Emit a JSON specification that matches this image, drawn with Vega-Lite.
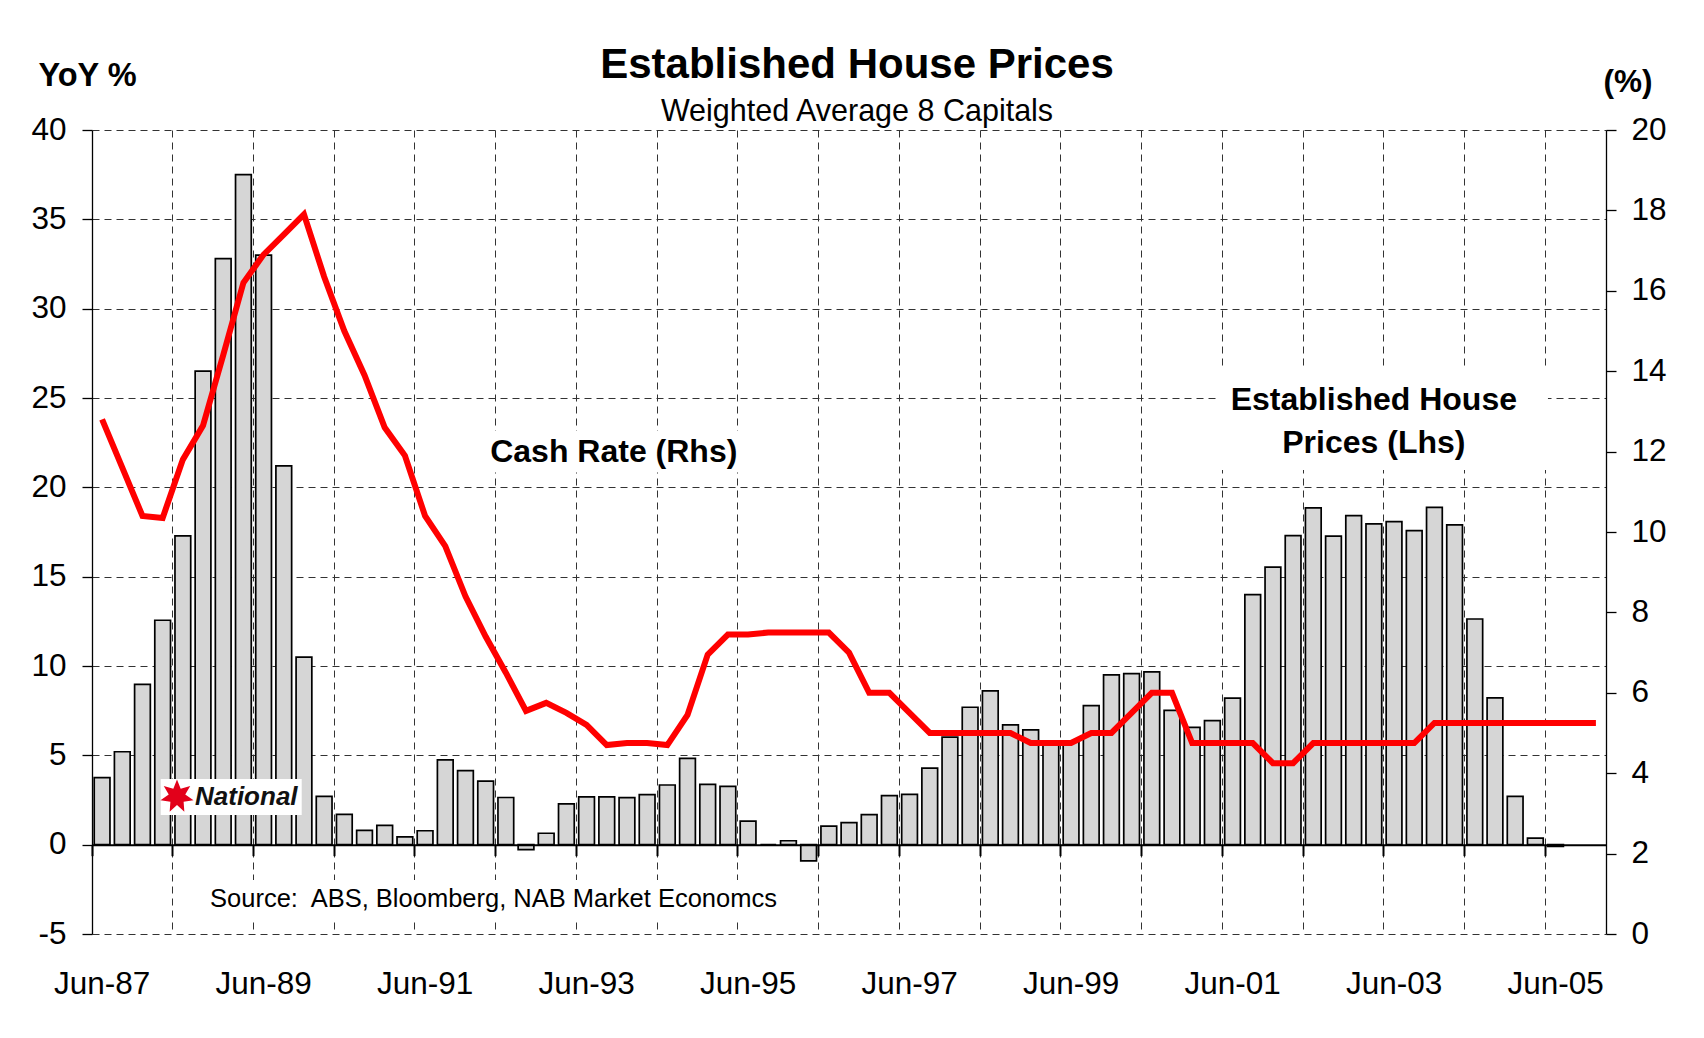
{
  "$schema": "https://vega.github.io/schema/vega-lite/v6.json",
  "width": 1514,
  "height": 804,
  "autosize": {"type": "none"},
  "padding": {"left": 92, "top": 130, "right": 98, "bottom": 104},
  "background": "white",
  "config": {"view": {"stroke": null}, "font": "Liberation Sans"},
  "title": {
    "text": "Established House Prices",
    "subtitle": "Weighted Average 8 Capitals",
    "anchor": "middle",
    "frame": "group",
    "font": "Liberation Sans",
    "fontSize": 42,
    "fontWeight": "bold",
    "color": "#000",
    "subtitleFont": "Liberation Sans",
    "subtitleFontSize": 30.5,
    "subtitleColor": "#000",
    "subtitlePadding": 10,
    "offset": -66,
    "dx": 8,
    "dy": 3
  },
  "datasets": {
    "quarters": [
      {"q": "Jun-87", "date": "1987-06-30", "hp": 3.75, "cash": 12.8},
      {"q": "Sep-87", "date": "1987-09-30", "hp": 5.2, "cash": 11.6},
      {"q": "Dec-87", "date": "1987-12-31", "hp": 8.97, "cash": 10.4},
      {"q": "Mar-88", "date": "1988-03-31", "hp": 12.56, "cash": 10.35},
      {"q": "Jun-88", "date": "1988-06-30", "hp": 17.28, "cash": 11.8},
      {"q": "Sep-88", "date": "1988-09-30", "hp": 26.5, "cash": 12.65},
      {"q": "Dec-88", "date": "1988-12-31", "hp": 32.8, "cash": 14.4},
      {"q": "Mar-89", "date": "1989-03-31", "hp": 37.5, "cash": 16.2},
      {"q": "Jun-89", "date": "1989-06-30", "hp": 33.0, "cash": 16.9},
      {"q": "Sep-89", "date": "1989-09-30", "hp": 21.2, "cash": 17.4},
      {"q": "Dec-89", "date": "1989-12-31", "hp": 10.5, "cash": 17.9},
      {"q": "Mar-90", "date": "1990-03-31", "hp": 2.7, "cash": 16.35},
      {"q": "Jun-90", "date": "1990-06-30", "hp": 1.7, "cash": 15.0},
      {"q": "Sep-90", "date": "1990-09-30", "hp": 0.8, "cash": 13.9},
      {"q": "Dec-90", "date": "1990-12-31", "hp": 1.08, "cash": 12.6},
      {"q": "Mar-91", "date": "1991-03-31", "hp": 0.44, "cash": 11.9},
      {"q": "Jun-91", "date": "1991-06-30", "hp": 0.78, "cash": 10.4},
      {"q": "Sep-91", "date": "1991-09-30", "hp": 4.75, "cash": 9.65},
      {"q": "Dec-91", "date": "1991-12-31", "hp": 4.14, "cash": 8.4},
      {"q": "Mar-92", "date": "1992-03-31", "hp": 3.56, "cash": 7.4},
      {"q": "Jun-92", "date": "1992-06-30", "hp": 2.64, "cash": 6.5},
      {"q": "Sep-92", "date": "1992-09-30", "hp": -0.28, "cash": 5.55},
      {"q": "Dec-92", "date": "1992-12-31", "hp": 0.64, "cash": 5.75},
      {"q": "Mar-93", "date": "1993-03-31", "hp": 2.28, "cash": 5.5},
      {"q": "Jun-93", "date": "1993-06-30", "hp": 2.67, "cash": 5.2},
      {"q": "Sep-93", "date": "1993-09-30", "hp": 2.67, "cash": 4.7},
      {"q": "Dec-93", "date": "1993-12-31", "hp": 2.63, "cash": 4.75},
      {"q": "Mar-94", "date": "1994-03-31", "hp": 2.8, "cash": 4.75},
      {"q": "Jun-94", "date": "1994-06-30", "hp": 3.34, "cash": 4.7},
      {"q": "Sep-94", "date": "1994-09-30", "hp": 4.83, "cash": 5.45},
      {"q": "Dec-94", "date": "1994-12-31", "hp": 3.38, "cash": 6.95},
      {"q": "Mar-95", "date": "1995-03-31", "hp": 3.26, "cash": 7.45},
      {"q": "Jun-95", "date": "1995-06-30", "hp": 1.32, "cash": 7.45},
      {"q": "Sep-95", "date": "1995-09-30", "hp": 0, "cash": 7.5},
      {"q": "Dec-95", "date": "1995-12-31", "hp": 0.22, "cash": 7.5},
      {"q": "Mar-96", "date": "1996-03-31", "hp": -0.91, "cash": 7.5},
      {"q": "Jun-96", "date": "1996-06-30", "hp": 1.04, "cash": 7.5},
      {"q": "Sep-96", "date": "1996-09-30", "hp": 1.23, "cash": 7.0},
      {"q": "Dec-96", "date": "1996-12-31", "hp": 1.68, "cash": 6.0},
      {"q": "Mar-97", "date": "1997-03-31", "hp": 2.74, "cash": 6.0},
      {"q": "Jun-97", "date": "1997-06-30", "hp": 2.81, "cash": 5.5},
      {"q": "Sep-97", "date": "1997-09-30", "hp": 4.28, "cash": 5.0},
      {"q": "Dec-97", "date": "1997-12-31", "hp": 6.02, "cash": 5.0},
      {"q": "Mar-98", "date": "1998-03-31", "hp": 7.69, "cash": 5.0},
      {"q": "Jun-98", "date": "1998-06-30", "hp": 8.61, "cash": 5.0},
      {"q": "Sep-98", "date": "1998-09-30", "hp": 6.7, "cash": 5.0},
      {"q": "Dec-98", "date": "1998-12-31", "hp": 6.43, "cash": 4.75},
      {"q": "Mar-99", "date": "1999-03-31", "hp": 5.7, "cash": 4.75},
      {"q": "Jun-99", "date": "1999-06-30", "hp": 5.78, "cash": 4.75},
      {"q": "Sep-99", "date": "1999-09-30", "hp": 7.78, "cash": 5.0},
      {"q": "Dec-99", "date": "1999-12-31", "hp": 9.5, "cash": 5.0},
      {"q": "Mar-00", "date": "2000-03-31", "hp": 9.57, "cash": 5.5},
      {"q": "Jun-00", "date": "2000-06-30", "hp": 9.67, "cash": 6.0},
      {"q": "Sep-00", "date": "2000-09-30", "hp": 7.52, "cash": 6.0},
      {"q": "Dec-00", "date": "2000-12-31", "hp": 6.57, "cash": 4.75},
      {"q": "Mar-01", "date": "2001-03-31", "hp": 6.94, "cash": 4.75},
      {"q": "Jun-01", "date": "2001-06-30", "hp": 8.2, "cash": 4.75},
      {"q": "Sep-01", "date": "2001-09-30", "hp": 14.0, "cash": 4.75},
      {"q": "Dec-01", "date": "2001-12-31", "hp": 15.53, "cash": 4.25},
      {"q": "Mar-02", "date": "2002-03-31", "hp": 17.3, "cash": 4.25},
      {"q": "Jun-02", "date": "2002-06-30", "hp": 18.85, "cash": 4.75},
      {"q": "Sep-02", "date": "2002-09-30", "hp": 17.27, "cash": 4.75},
      {"q": "Dec-02", "date": "2002-12-31", "hp": 18.42, "cash": 4.75},
      {"q": "Mar-03", "date": "2003-03-31", "hp": 17.95, "cash": 4.75},
      {"q": "Jun-03", "date": "2003-06-30", "hp": 18.08, "cash": 4.75},
      {"q": "Sep-03", "date": "2003-09-30", "hp": 17.58, "cash": 4.75},
      {"q": "Dec-03", "date": "2003-12-31", "hp": 18.88, "cash": 5.25},
      {"q": "Mar-04", "date": "2004-03-31", "hp": 17.9, "cash": 5.25},
      {"q": "Jun-04", "date": "2004-06-30", "hp": 12.63, "cash": 5.25},
      {"q": "Sep-04", "date": "2004-09-30", "hp": 8.22, "cash": 5.25},
      {"q": "Dec-04", "date": "2004-12-31", "hp": 2.7, "cash": 5.25},
      {"q": "Mar-05", "date": "2005-03-31", "hp": 0.37, "cash": 5.25},
      {"q": "Jun-05", "date": "2005-06-30", "hp": -0.1, "cash": 5.25},
      {"q": "Sep-05", "date": "2005-09-30", "hp": null, "cash": 5.25},
      {"q": "Dec-05", "date": "2005-12-31", "hp": null, "cash": 5.25}
    ]
  },
  "resolve": {
    "scale": {"y": "independent"},
    "axis": {"x": "independent", "y": "independent"}
  },
  "layer": [
    {
      "data": {"name": "quarters"},
      "mark": {"type": "bar", "fill": "#d6d6d6", "stroke": "#000", "strokeWidth": 1.7, "width": {"band": 0.78}},
      "encoding": {
        "x": {
          "field": "q", "type": "ordinal",
          "scale": {
            "domain": ["Jun-87","Sep-87","Dec-87","Mar-88","Jun-88","Sep-88","Dec-88","Mar-89","Jun-89","Sep-89","Dec-89","Mar-90","Jun-90","Sep-90","Dec-90","Mar-91","Jun-91","Sep-91","Dec-91","Mar-92","Jun-92","Sep-92","Dec-92","Mar-93","Jun-93","Sep-93","Dec-93","Mar-94","Jun-94","Sep-94","Dec-94","Mar-95","Jun-95","Sep-95","Dec-95","Mar-96","Jun-96","Sep-96","Dec-96","Mar-97","Jun-97","Sep-97","Dec-97","Mar-98","Jun-98","Sep-98","Dec-98","Mar-99","Jun-99","Sep-99","Dec-99","Mar-00","Jun-00","Sep-00","Dec-00","Mar-01","Jun-01","Sep-01","Dec-01","Mar-02","Jun-02","Sep-02","Dec-02","Mar-03","Jun-03","Sep-03","Dec-03","Mar-04","Jun-04","Sep-04","Dec-04","Mar-05","Jun-05","Sep-05","Dec-05"],
            "paddingInner": 0, "paddingOuter": 0
          },
          "axis": {
            "orient": "bottom",
            "values": ["Jun-87","Jun-89","Jun-91","Jun-93","Jun-95","Jun-97","Jun-99","Jun-01","Jun-03","Jun-05"],
            "ticks": false, "tickSize": 0, "domain": false, "grid": false,
            "labelFontSize": 31.5, "labelFont": "Liberation Sans", "labelColor": "#000",
            "labelPadding": 34, "labelAngle": 0, "labelOverlap": false, "title": null
          }
        },
        "y": {
          "field": "hp", "type": "quantitative",
          "scale": {"domain": [-5, 40], "nice": false},
          "axis": {
            "orient": "left", "values": [-5, 0, 5, 10, 15, 20, 25, 30, 35, 40],
            "grid": true, "gridDash": [7, 5], "gridColor": "#333", "gridWidth": 1,
            "domain": true, "domainColor": "#000", "domainWidth": 1.3,
            "ticks": true, "tickColor": "#000", "tickWidth": 1.3, "tickSize": 10,
            "labelFontSize": 31.5, "labelFont": "Liberation Sans", "labelColor": "#000",
            "labelPadding": 16, "labelExpr": "toString(datum.value)",
            "title": "YoY %", "titleFont": "Liberation Sans", "titleFontSize": 32.5, "titleFontWeight": "bold",
            "titleColor": "#000", "titleAngle": 0, "titleAlign": "left", "titleBaseline": "alphabetic",
            "titleX": -54, "titleY": -44.7
          }
        }
      }
    },
    {
      "data": {"name": "quarters"},
      "mark": {"type": "line", "color": "#ff0000", "strokeWidth": 6},
      "encoding": {
        "x": {
          "field": "q", "type": "ordinal",
          "axis": {
            "orient": "bottom",
            "values": ["Jun-88","Jun-89","Jun-90","Jun-91","Jun-92","Jun-93","Jun-94","Jun-95","Jun-96","Jun-97","Jun-98","Jun-99","Jun-00","Jun-01","Jun-02","Jun-03","Jun-04","Jun-05"],
            "bandPosition": 0, "grid": true, "gridDash": [7, 5], "gridColor": "#333", "gridWidth": 1,
            "ticks": false, "labels": false, "domain": false, "title": null
          }
        },
        "y": {
          "field": "cash", "type": "quantitative",
          "scale": {"domain": [0, 20], "nice": false},
          "axis": {
            "orient": "right", "values": [0, 2, 4, 6, 8, 10, 12, 14, 16, 18, 20],
            "grid": false, "domain": true, "domainColor": "#000", "domainWidth": 1.3,
            "ticks": true, "tickColor": "#000", "tickWidth": 1.3, "tickSize": 10,
            "labelFontSize": 31.5, "labelFont": "Liberation Sans", "labelColor": "#000", "labelPadding": 15,
            "title": "(%)", "titleFont": "Liberation Sans", "titleFontSize": 31.5, "titleFontWeight": "bold",
            "titleColor": "#000", "titleAngle": 0, "titleAlign": "left", "titleBaseline": "alphabetic",
            "titleX": -3, "titleY": -39
          }
        },
        "order": {"field": "date", "type": "temporal"}
      }
    },
    {
      "data": {"name": "quarters"},
      "mark": {"type": "point", "opacity": 0},
      "encoding": {
        "x": {
          "field": "q", "type": "ordinal",
          "axis": {
            "orient": "bottom",
            "values": ["Jun-87","Jun-88","Jun-89","Jun-90","Jun-91","Jun-92","Jun-93","Jun-94","Jun-95","Jun-96","Jun-97","Jun-98","Jun-99","Jun-00","Jun-01","Jun-02","Jun-03","Jun-04","Jun-05"],
            "bandPosition": 0, "offset": -89.33,
            "domain": true, "domainColor": "#000", "domainWidth": 2,
            "ticks": true, "tickColor": "#000", "tickWidth": 2, "tickSize": 11,
            "labels": false, "grid": false, "title": null, "zindex": 1
          }
        },
        "y": {"field": "hp", "type": "quantitative", "scale": {"domain": [-5, 40], "nice": false}, "axis": null}
      }
    },
    {
      "data": {"values": [{}]},
      "mark": {"type": "point", "shape": "M-1,-0.154H1V0.154H-1Z", "size": 73984, "filled": true, "fill": "#fff", "strokeWidth": 0, "opacity": 1, "xOffset": 7},
      "encoding": {
        "x": {"datum": "Sep-93", "type": "ordinal", "axis": null},
        "y": {"datum": 22, "type": "quantitative", "scale": {"domain": [-5, 40], "nice": false}, "axis": null}
      }
    },
    {
      "data": {"values": [{}]},
      "mark": {"type": "point", "shape": "M-1,-0.311H1V0.311H-1Z", "size": 109561, "filled": true, "fill": "#fff", "strokeWidth": 0, "opacity": 1, "xOffset": 8.6},
      "encoding": {
        "x": {"datum": "Mar-03", "type": "ordinal", "axis": null},
        "y": {"datum": 23.85, "type": "quantitative", "scale": {"domain": [-5, 40], "nice": false}, "axis": null}
      }
    },
    {
      "data": {"values": [{}]},
      "mark": {"type": "point", "shape": "M-1,-0.064H1V0.064H-1Z", "size": 351649, "filled": true, "fill": "#fff", "strokeWidth": 0, "opacity": 1, "xOffset": -9.3},
      "encoding": {
        "x": {"datum": "Jun-92", "type": "ordinal", "axis": null},
        "y": {"datum": -3.04, "type": "quantitative", "scale": {"domain": [-5, 40], "nice": false}, "axis": null}
      }
    },
    {
      "data": {"values": [{}]},
      "mark": {"type": "point", "shape": "M-1,-0.255H1V0.255H-1Z", "size": 19881, "filled": true, "fill": "#fff", "strokeWidth": 0, "opacity": 1, "xOffset": -12.2},
      "encoding": {
        "x": {"datum": "Mar-89", "type": "ordinal", "axis": null},
        "y": {"datum": 2.67, "type": "quantitative", "scale": {"domain": [-5, 40], "nice": false}, "axis": null}
      }
    },
    {
      "data": {"values": [{}]},
      "mark": {"type": "point", "shape": "M0,-1L0.217,-0.45L0.782,-0.623L0.488,-0.111L0.975,0.223L0.391,0.312L0.434,0.901L0,0.5L-0.434,0.901L-0.391,0.312L-0.975,0.223L-0.488,-0.111L-0.782,-0.623L-0.217,-0.45Z", "size": 1146, "filled": true, "fill": "#e2001a", "strokeWidth": 0, "opacity": 1, "xOffset": -66.4},
      "encoding": {
        "x": {"datum": "Mar-89", "type": "ordinal", "axis": null},
        "y": {"datum": 2.7, "type": "quantitative", "scale": {"domain": [-5, 40], "nice": false}, "axis": null}
      }
    },
    {
      "data": {"values": [{}]},
      "mark": {"type": "text", "text": "National", "font": "Liberation Sans", "fontSize": 26, "fontWeight": "bold", "fontStyle": "italic", "color": "#111", "align": "left", "baseline": "alphabetic", "dx": -48.4},
      "encoding": {
        "x": {"datum": "Mar-89", "type": "ordinal", "axis": null},
        "y": {"datum": 2.22, "type": "quantitative", "scale": {"domain": [-5, 40], "nice": false}, "axis": null}
      }
    },
    {
      "data": {"values": [{}]},
      "mark": {"type": "text", "text": "Cash Rate (Rhs)", "font": "Liberation Sans", "fontSize": 32, "fontWeight": "bold", "color": "#000", "align": "center", "baseline": "middle", "dx": 7},
      "encoding": {
        "x": {"datum": "Sep-93", "type": "ordinal", "axis": null},
        "y": {"datum": 22, "type": "quantitative", "scale": {"domain": [-5, 40], "nice": false}, "axis": null}
      }
    },
    {
      "data": {"values": [{}]},
      "mark": {"type": "text", "text": ["Established House", "Prices (Lhs)"], "lineHeight": 43.3, "font": "Liberation Sans", "fontSize": 32, "fontWeight": "bold", "color": "#000", "align": "center", "baseline": "alphabetic"},
      "encoding": {
        "x": {"datum": "Mar-03", "type": "ordinal", "axis": null},
        "y": {"datum": 24.33, "type": "quantitative", "scale": {"domain": [-5, 40], "nice": false}, "axis": null}
      }
    },
    {
      "data": {"values": [{}]},
      "mark": {"type": "text", "text": "Source:\u00a0 ABS, Bloomberg, NAB Market Economcs", "font": "Liberation Sans", "fontSize": 25.5, "color": "#000", "align": "left", "baseline": "alphabetic", "dx": 7},
      "encoding": {
        "x": {"datum": "Sep-88", "type": "ordinal", "axis": null},
        "y": {"datum": -3.47, "type": "quantitative", "scale": {"domain": [-5, 40], "nice": false}, "axis": null}
      }
    }
  ]
}
